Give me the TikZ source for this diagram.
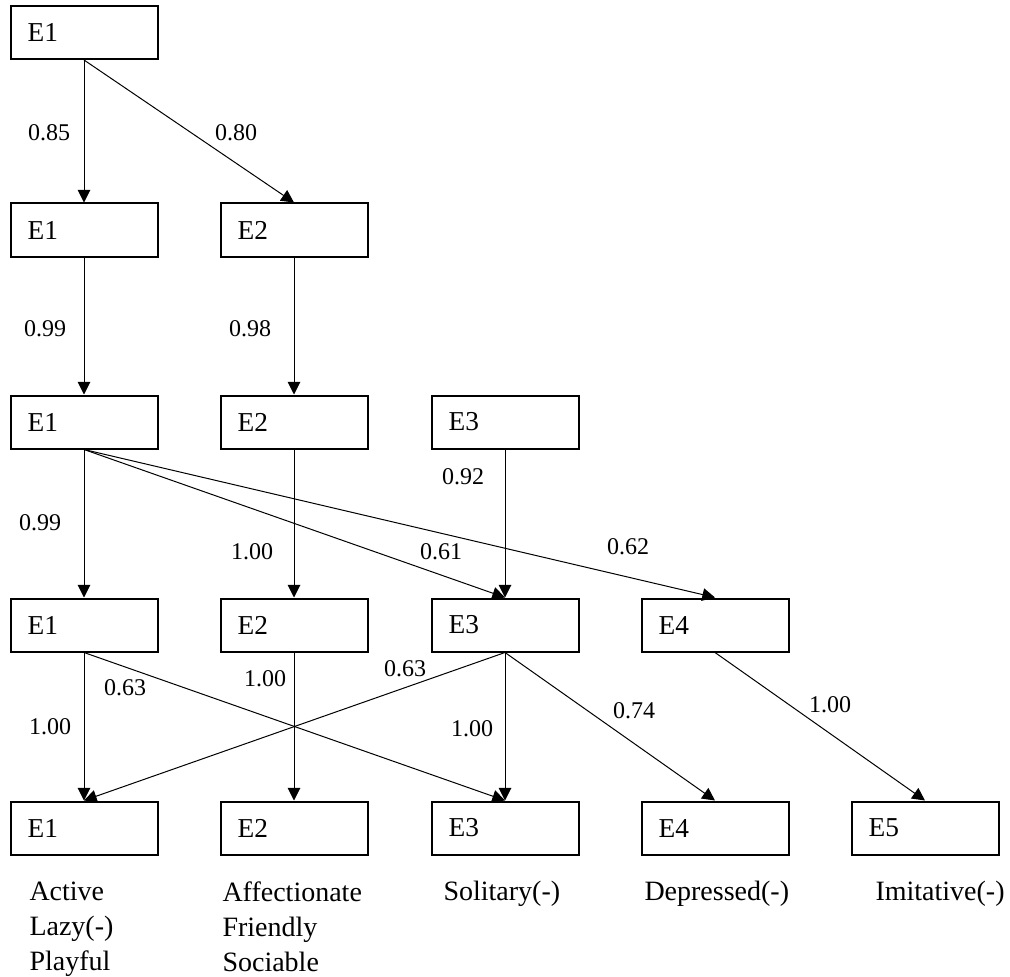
\documentclass[tikz,border=0pt]{standalone}
\usepackage{fontspec}
\setmainfont{Liberation Serif}
\usetikzlibrary{arrows.meta}

\tikzset{every picture/.style={line width=0.75pt}}
\tikzset{
  factor/.style={draw, rectangle, line width=1.5pt, minimum width=110.25pt, minimum height=39.75pt,
    text width=84.5pt, inner xsep=12.75pt, align=left, font=\fontsize{20.5}{24}\selectfont},
  load/.style={inner sep=0pt, font=\fontsize{18}{20}\selectfont},
  trait/.style={anchor=north west, inner sep=0pt, align=left, font=\fontsize{21}{26.25}\selectfont},
  link/.style={-{Triangle[length=9.5pt,width=9.5pt]}, line width=0.75pt},
}

\begin{document}
\begin{tikzpicture}[x=0.75pt,y=0.75pt,yscale=-1,xscale=1]
\useasboundingbox (0,0) rectangle (1010,977);

%Shape: Rectangle, level 1
\node [factor] (a1) at (84,32.5) {E1};
%Shape: Rectangle, level 2
\node [factor] (b1) at (84,230) {E1};
\node [factor] (b2) at (294,230) {E2};
%Shape: Rectangle, level 3
\node [factor] (c1) at (84,422) {E1};
\node [factor] (c2) at (294,422) {E2};
\node [factor] (c3) at (505,422) {E3};
%Shape: Rectangle, level 4
\node [factor] (d1) at (84,625) {E1};
\node [factor] (d2) at (294,625) {E2};
\node [factor] (d3) at (505,625) {E3};
\node [factor] (d4) at (715,625) {E4};
%Shape: Rectangle, level 5
\node [factor] (e1) at (84,828) {E1};
\node [factor] (e2) at (294,828) {E2};
\node [factor] (e3) at (505,828) {E3};
\node [factor] (e4) at (715,828) {E4};
\node [factor] (e5) at (925,828) {E5};

%Straight Lines
\draw [link] (a1.south) -- (b1.north);
\draw [link] (a1.south) -- (b2.north);
\draw [link] (b1.south) -- (c1.north);
\draw [link] (b2.south) -- (c2.north);
\draw [link] (c1.south) -- (d1.north);
\draw [link] (c2.south) -- (d2.north);
\draw [link] (c3.south) -- (d3.north);
\draw [link] (c1.south) -- (d3.north);
\draw [link] (c1.south) -- (d4.north);
\draw [link] (d1.south) -- (e1.north);
\draw [link] (d1.south) -- (e3.north);
\draw [link] (d2.south) -- (e2.north);
\draw [link] (d3.south) -- (e1.north);
\draw [link] (d3.south) -- (e3.north);
\draw [link] (d3.south) -- (e4.north);
\draw [link] (d4.south) -- (e5.north);

% Text Node
\draw (49,133) node [load] (w1) {0.85};
\draw (236,133) node [load] (w2) {0.80};
\draw (45,329) node [load] (w3) {0.99};
\draw (250,329) node [load] (w4) {0.98};
\draw (463,477) node [load] (w5) {0.92};
\draw (40,523) node [load] (w6) {0.99};
\draw (252,552) node [load] (w7) {1.00};
\draw (441,552) node [load] (w8) {0.61};
\draw (628,547) node [load] (w9) {0.62};
\draw (125,688) node [load] (w10) {0.63};
\draw (265,679) node [load] (w11) {1.00};
\draw (405,669) node [load] (w12) {0.63};
\draw (50,727) node [load] (w13) {1.00};
\draw (472,729) node [load] (w14) {1.00};
\draw (634,711) node [load] (w15) {0.74};
\draw (830,705) node [load] (w16) {1.00};

% Text Node
\draw (29,881) node [trait] (t1) {Active\\Lazy(-)\\Playful};
\draw (222,881) node [trait] (t2) {Affectionate\\Friendly\\Sociable};
\draw (443,881) node [trait] (t3) {Solitary(-)};
\draw (644,881) node [trait] (t4) {Depressed(-)};
\draw (875,881) node [trait] (t5) {Imitative(-)};

\end{tikzpicture}
\end{document}
